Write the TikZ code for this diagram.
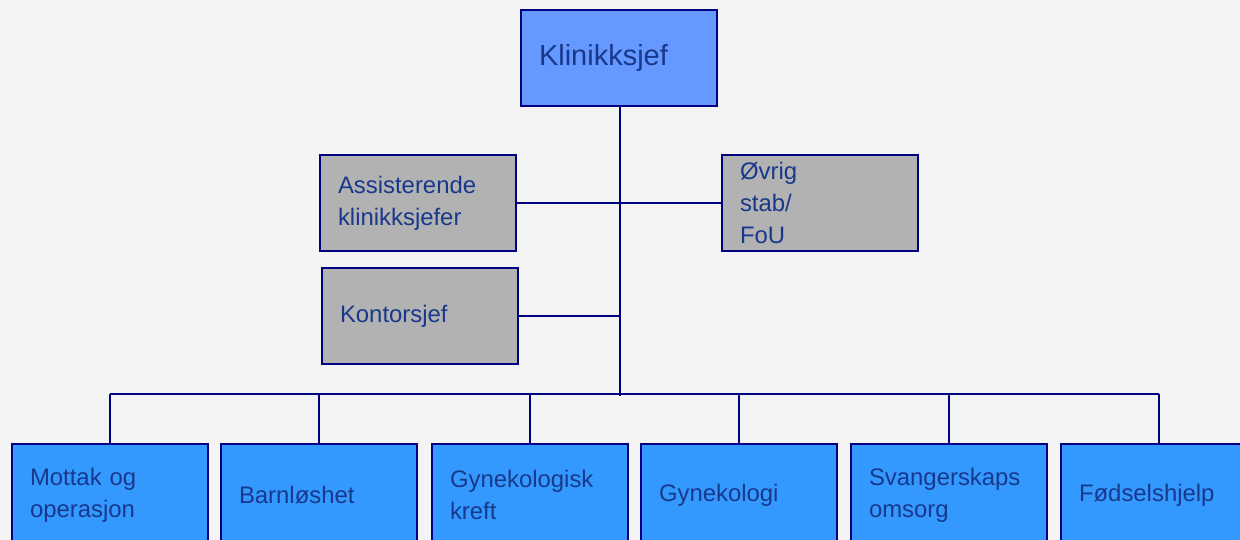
\documentclass[tikz,border=0pt]{standalone}
\usepackage{fontspec}
\setmainfont{Liberation Sans}
\usetikzlibrary{positioning,calc}
\definecolor{bgcol}{HTML}{F4F4F4}
\definecolor{chieffill}{HTML}{6699FF}
\definecolor{unitfill}{HTML}{3399FF}
\definecolor{stafffill}{HTML}{B2B2B2}
\definecolor{linecol}{HTML}{000080}
\definecolor{textcol}{RGB}{24,56,140}
\tikzset{
    x=0.02cm, y=-0.02cm, % one unit is one pixel of the chart
    orgline/.style={draw=linecol, line width=1.1pt}, % the connecting lines
    box/.style={rectangle, draw=linecol, line width=1.1pt, text=textcol,
        minimum width=3.92cm, minimum height=1.92cm,
        text width=3.2cm, inner xsep=0.36cm, align=left,
        font=\fontsize{13.6}{18.2}\selectfont}, % every box of the chart
    chiefbox/.style={box, fill=chieffill, minimum width=3.88cm,
        font=\fontsize{16.5}{20}\selectfont},
    staffbox/.style={box, fill=stafffill},
    unitbox/.style={box, fill=unitfill, minimum height=2.04cm}, % runs off the page
}
\begin{document}
\begin{tikzpicture}
  \fill[bgcol] (0,0) rectangle (1240,540);
  \useasboundingbox (0,0) rectangle (1240,540);

  % top level
  \node[chiefbox] (chief) at (619,58) {Klinikksjef};

  % staff
  \node[staffbox] (assist) at (418,203) {Assisterende\\klinikksjefer};
  \node[staffbox] (other)  at (820,203) {Øvrig\\stab/\\FoU};
  \node[staffbox] (office) at (420,316) {Kontorsjef};

  % units
  \node[unitbox] (u1) at (110,495)  {Mottak og\\operasjon};
  \node[unitbox] (u2) at (319,495)  {Barnløshet};
  \node[unitbox] (u3) at (530,495)  {Gynekologisk\\kreft};
  \node[unitbox] (u4) at (739,495)  {Gynekologi};
  \node[unitbox] (u5) at (949,495)  {Svangerskaps\\omsorg};
  \node[unitbox] (u6) at (1159,495) {Fødselshjelp};

  \coordinate (trunkend) at (620,396);
  \coordinate (bus) at (620,394);

  \path[orgline]
    (chief.south -| trunkend) edge (trunkend)
    (assist.east) edge (other.west)
    (office.east) edge (office.east -| trunkend)
    (u1.north |- bus) edge (u6.north |- bus);
  \foreach \u in {u1,u2,u3,u4,u5,u6}
    \draw[orgline] (\u.north) -- (\u.north |- bus);
\end{tikzpicture}
\end{document}
